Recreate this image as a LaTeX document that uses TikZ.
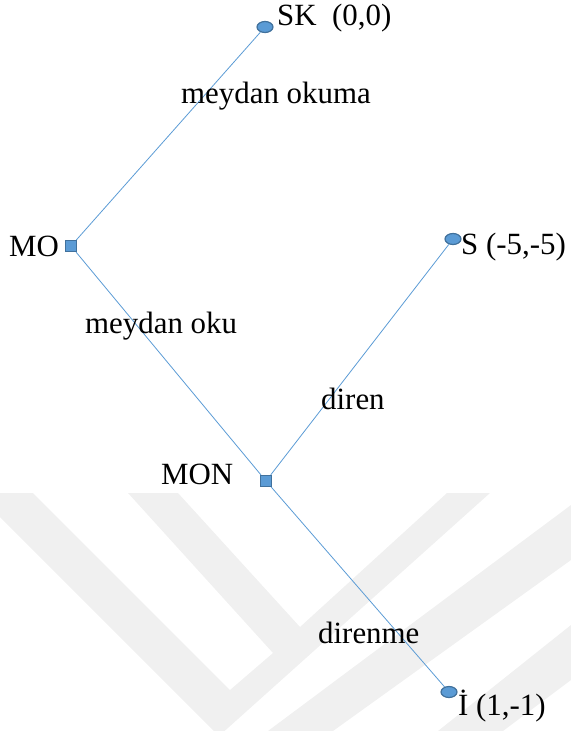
\documentclass[tikz,border=0pt]{standalone}
\usepackage{fontspec}
\setmainfont{Liberation Serif}
\usetikzlibrary{shapes.geometric}
\definecolor{lineblue}{HTML}{5B9BD5}
\definecolor{nodeedge}{HTML}{41719C}
\tikzset{
	leaf/.style   = {
		ellipse,
		minimum width  = 16bp,
		minimum height = 11bp,
		inner sep      = 0pt,
		fill           = lineblue,
		draw           = nodeedge,
		line width     = 1.2bp
	},
	choice/.style = {
		rectangle,
		minimum size = 11bp,
		inner sep    = 0pt,
		fill         = lineblue,
		draw         = nodeedge,
		line width   = 1.2bp
	},
	move/.style   = {draw = lineblue, line width = 0.8bp},
	lbl/.style    = {inner sep = 0pt, anchor = base west, font = \fontsize{31}{37}\selectfont},
	wmark/.style  = {fill = black!6, draw = none}
}

\begin{document}
\begin{tikzpicture}[x = 1bp, y = -1bp]
	\useasboundingbox (0,0) rectangle (571,731);
	% faint watermark in the background
	\begin{scope}
		\clip (0,0) rectangle (571,731);
		\path[wmark] (-24,493) -- (33,493) -- (230,690) -- (273,653) -- (128,493) -- (178,493) --
		(300,627) -- (447,493) -- (490,493) -- (219,736) -- cycle;
		\path[wmark] (268,731) -- (571,505) -- (571,560) -- (333,731) -- cycle;
		\path[wmark] (438,731) -- (571,625) -- (571,680) -- (503,731) -- cycle;
	\end{scope}
	% decision and end nodes
	\node[leaf]   (sk)  at (265,27)  {};
	\node[choice] (mo)  at (71,246)  {};
	\node[leaf]   (s)   at (453,239) {};
	\node[choice] (mon) at (266,481) {};
	\node[leaf]   (i)   at (449,692) {};
	% moves
	\draw[move] (mo) -- (sk);
	\draw[move] (mo) -- (mon);
	\draw[move] (mon) -- (s);
	\draw[move] (mon) -- (i);
	% payoffs and names
	\node[lbl] (skpay)   at (277,26)  {SK\ \ (0,0)};
	\node[lbl] (spay)    at (461,254) {S (-5,-5)};
	\node[lbl] (ipay)    at (458,715) {İ (1,-1)};
	\node[lbl] (moname)  at (9,256)   {MO};
	\node[lbl] (monname) at (161,484) {MON};
	% move labels
	\node[lbl] (okuma)   at (181,104) {meydan okuma};
	\node[lbl] (oku)     at (85,333)  {meydan oku};
	\node[lbl] (diren)   at (321,409) {diren};
	\node[lbl] (direnme) at (318,643) {direnme};
\end{tikzpicture}
\end{document}
